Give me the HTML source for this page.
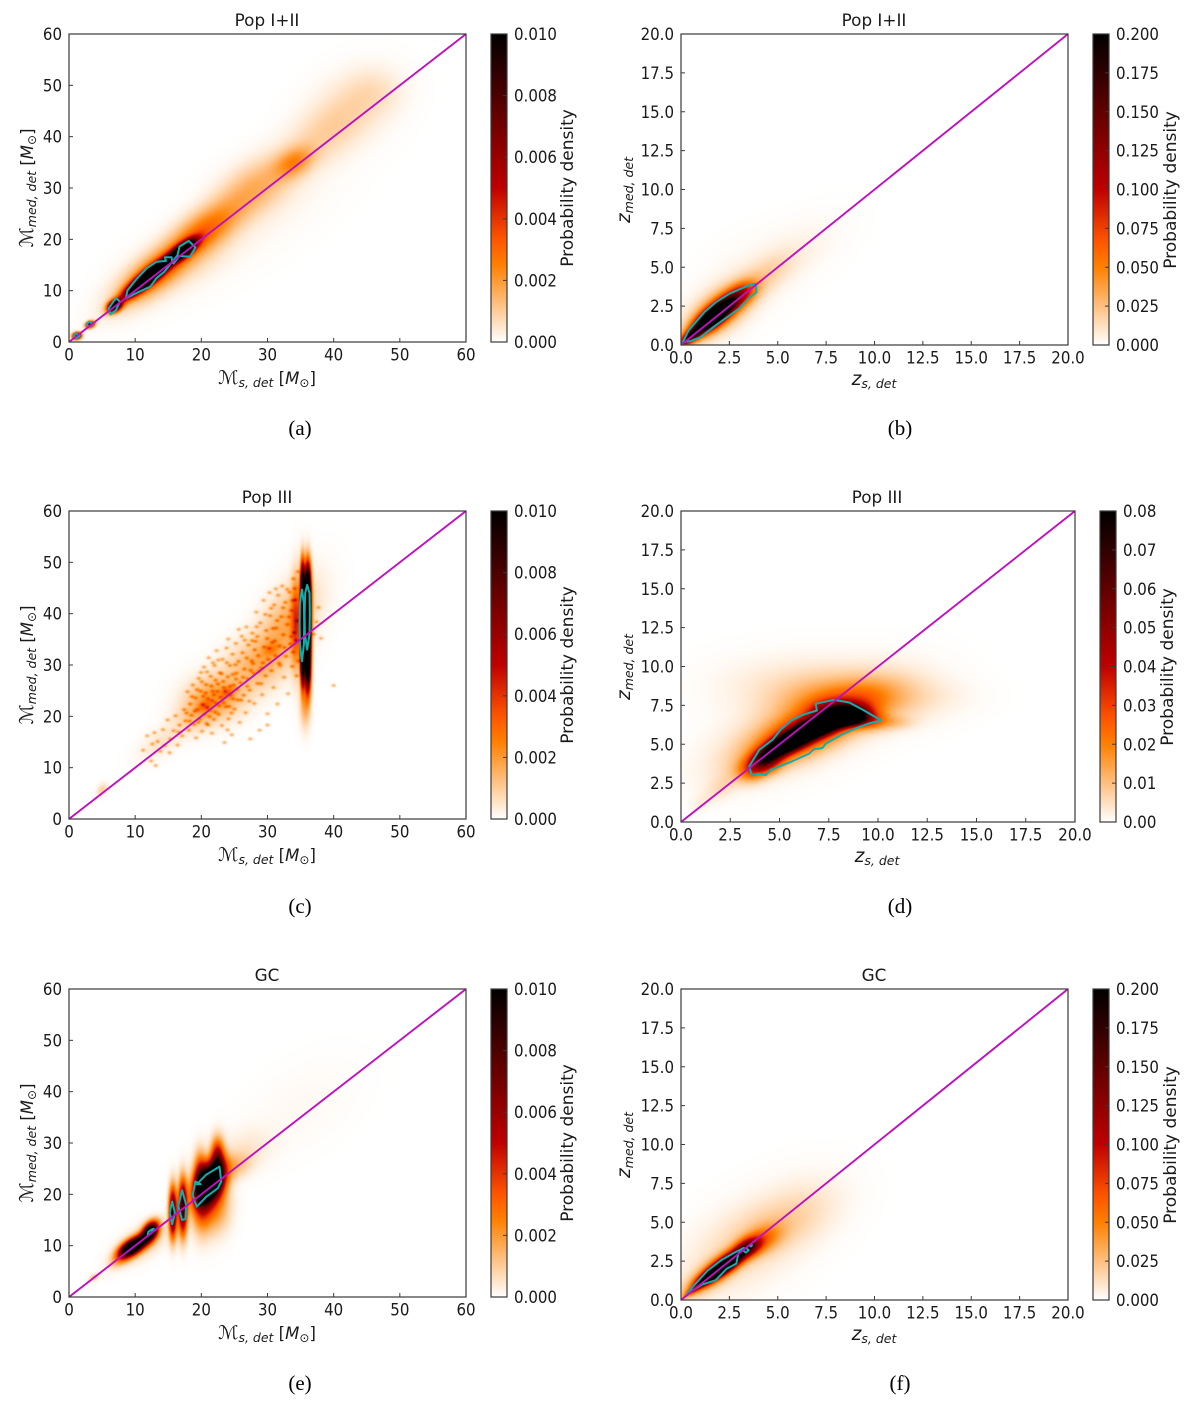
<!DOCTYPE html>
<html lang="en">
<head>
<meta charset="utf-8">
<title>Probability density panels</title>
<style>
html,body{margin:0;padding:0;background:#fff;}
#stage{position:relative;width:1200px;height:1401px;overflow:hidden;background:#fff;}
canvas{position:absolute;display:block;}
svg{position:absolute;left:0;top:0;}
text{font-family:"DejaVu Sans","Liberation Sans",sans-serif;fill:#1a1a1a;}
.ttl{font-size:16.8px;text-anchor:middle;}
.lab{font-size:16.5px;text-anchor:middle;}
.cap{font-family:"Liberation Serif",serif;font-size:21px;text-anchor:middle;fill:#000;}
.cbl{font-size:17px;text-anchor:middle;}
.i{font-style:italic;}
</style>
</head>
<body>
<div id="stage">
<svg id="fig" width="1200" height="1401" viewBox="0 0 1200 1401">
  <defs id="defs"></defs>
  <g id="marks"></g>

  <text class="ttl" x="267" y="26">Pop I+II</text>
  <text class="lab" x="267" y="384"><tspan class="i" font-size="19">ℳ</tspan><tspan class="i" font-size="12.5" dy="3">s, det</tspan><tspan dy="-3">  [</tspan><tspan class="i">M</tspan><tspan font-size="12" dy="3">⊙</tspan><tspan dy="-3">]</tspan></text>
  <text class="lab" transform="translate(33 188) rotate(-90)"><tspan class="i" font-size="19">ℳ</tspan><tspan class="i" font-size="12.5" dy="3">med, det</tspan><tspan dy="-3">  [</tspan><tspan class="i">M</tspan><tspan font-size="12" dy="3">⊙</tspan><tspan dy="-3">]</tspan></text>
  <text class="cbl" transform="translate(573 188) rotate(-90)">Probability density</text>
  <text class="cap" x="300" y="435">(a)</text>

  <text class="ttl" x="874" y="26">Pop I+II</text>
  <text class="lab" x="874" y="385"><tspan class="i" font-size="18.5">z</tspan><tspan class="i" font-size="12.5" dy="3">s, det</tspan></text>
  <text class="lab" transform="translate(630 190) rotate(-90)"><tspan class="i" font-size="18.5">z</tspan><tspan class="i" font-size="12.5" dy="3">med, det</tspan></text>
  <text class="cbl" transform="translate(1176 190) rotate(-90)">Probability density</text>
  <text class="cap" x="900" y="435">(b)</text>

  <text class="ttl" x="267" y="503">Pop III</text>
  <text class="lab" x="267" y="861"><tspan class="i" font-size="19">ℳ</tspan><tspan class="i" font-size="12.5" dy="3">s, det</tspan><tspan dy="-3">  [</tspan><tspan class="i">M</tspan><tspan font-size="12" dy="3">⊙</tspan><tspan dy="-3">]</tspan></text>
  <text class="lab" transform="translate(33 665) rotate(-90)"><tspan class="i" font-size="19">ℳ</tspan><tspan class="i" font-size="12.5" dy="3">med, det</tspan><tspan dy="-3">  [</tspan><tspan class="i">M</tspan><tspan font-size="12" dy="3">⊙</tspan><tspan dy="-3">]</tspan></text>
  <text class="cbl" transform="translate(573 665) rotate(-90)">Probability density</text>
  <text class="cap" x="300" y="913">(c)</text>

  <text class="ttl" x="877" y="503">Pop III</text>
  <text class="lab" x="877" y="862"><tspan class="i" font-size="18.5">z</tspan><tspan class="i" font-size="12.5" dy="3">s, det</tspan></text>
  <text class="lab" transform="translate(630 667) rotate(-90)"><tspan class="i" font-size="18.5">z</tspan><tspan class="i" font-size="12.5" dy="3">med, det</tspan></text>
  <text class="cbl" transform="translate(1173 667) rotate(-90)">Probability density</text>
  <text class="cap" x="900" y="913">(d)</text>

  <text class="ttl" x="267" y="981">GC</text>
  <text class="lab" x="267" y="1339"><tspan class="i" font-size="19">ℳ</tspan><tspan class="i" font-size="12.5" dy="3">s, det</tspan><tspan dy="-3">  [</tspan><tspan class="i">M</tspan><tspan font-size="12" dy="3">⊙</tspan><tspan dy="-3">]</tspan></text>
  <text class="lab" transform="translate(33 1143) rotate(-90)"><tspan class="i" font-size="19">ℳ</tspan><tspan class="i" font-size="12.5" dy="3">med, det</tspan><tspan dy="-3">  [</tspan><tspan class="i">M</tspan><tspan font-size="12" dy="3">⊙</tspan><tspan dy="-3">]</tspan></text>
  <text class="cbl" transform="translate(573 1143) rotate(-90)">Probability density</text>
  <text class="cap" x="300" y="1390">(e)</text>

  <text class="ttl" x="874" y="981">GC</text>
  <text class="lab" x="874" y="1340"><tspan class="i" font-size="18.5">z</tspan><tspan class="i" font-size="12.5" dy="3">s, det</tspan></text>
  <text class="lab" transform="translate(630 1145) rotate(-90)"><tspan class="i" font-size="18.5">z</tspan><tspan class="i" font-size="12.5" dy="3">med, det</tspan></text>
  <text class="cbl" transform="translate(1176 1145) rotate(-90)">Probability density</text>
  <text class="cap" x="900" y="1390">(f)</text>
</svg>
</div>

<script>
// Tick values and labels
const massTicks = [0, 10, 20, 30, 40, 50, 60];
const massTickLabels = ["0", "10", "20", "30", "40", "50", "60"];
const redshiftTicks = [0, 2.5, 5, 7.5, 10, 12.5, 15, 17.5, 20];
const redshiftTickLabels = ["0.0", "2.5", "5.0", "7.5", "10.0", "12.5", "15.0", "17.5", "20.0"];
const massDensityTicks = [0, 0.002, 0.004, 0.006, 0.008, 0.01];
const massDensityLabels = ["0.000", "0.002", "0.004", "0.006", "0.008", "0.010"];
const redshiftDensityTicks = [0, 0.025, 0.05, 0.075, 0.1, 0.125, 0.15, 0.175, 0.2];
const redshiftDensityLabels = ["0.000", "0.025", "0.050", "0.075", "0.100", "0.125", "0.150", "0.175", "0.200"];
const popIIIDensityTicks = [0, 0.01, 0.02, 0.03, 0.04, 0.05, 0.06, 0.07, 0.08];
const popIIIDensityLabels = ["0.00", "0.01", "0.02", "0.03", "0.04", "0.05", "0.06", "0.07", "0.08"];

// Density lobes: [x, y, spread along, spread across, direction in degrees, peak density]
const densityA = [
  [12, 12.6, 3.2, 0.72, 47, 0.019], [17.3, 17.9, 1.8, 0.72, 47, 0.014], [6.9, 7, 0.85, 0.6, 55, 0.012],
  [1.2, 1.2, 0.45, 0.4, 45, 0.012], [3.2, 3.4, 0.5, 0.4, 45, 0.008],
  [13, 13.4, 5, 1.9, 47, 0.0028], [13, 13.5, 6, 2.8, 47, 0.0006], [20.5, 21.7, 4.5, 2.2, 47, 0.0026],
  [28, 30, 5, 2.8, 48, 0.0015], [34, 35, 2.4, 1.6, 48, 0.0018], [38.5, 40.5, 5, 3, 50, 0.00075],
  [43, 46, 5, 3.8, 55, 0.0005], [46, 49, 3, 3, 60, 0.00035], [30, 25, 10, 4, 45, 0.00015], [20, 15.5, 5, 2.4, 45, 0.0003]
];
const densityB = [
  [1.7, 1.85, 0.95, 0.32, 47, 0.29], [2.8, 3, 0.7, 0.38, 47, 0.04], [3.3, 3.4, 0.55, 0.4, 47, 0.03],
  [2, 2.2, 1.4, 0.6, 47, 0.06], [2, 2.2, 1.6, 0.95, 47, 0.012], [0.5, 0.55, 0.5, 0.2, 47, 0.15],
  [4.5, 4.6, 1.2, 0.6, 45, 0.012], [6, 6, 2, 1, 42, 0.004], [3.5, 4.5, 2, 1.3, 45, 0.003]
];
const densityC = [
  [22, 23.5, 3, 2.8, 45, 0.0018], [28, 30, 4, 3, 55, 0.0012], [33, 38, 6, 2.5, 70, 0.0016],
  [19, 20, 2.5, 2, 45, 0.0008], [14, 15, 3, 1.5, 45, 0.0005], [34.3, 38, 6, 0.5, 90, 0.003],
  [35.3, 31, 3.5, 0.24, 90, 0.012], [35.3, 38, 3.5, 0.24, 90, 0.012], [35.3, 45, 3.5, 0.24, 90, 0.012],
  [36.1, 30, 3.5, 0.32, 90, 0.013], [36.1, 37, 3.5, 0.32, 90, 0.016], [36.1, 44.5, 3.5, 0.32, 90, 0.016],
  [35.7, 22, 3, 0.55, 90, 0.0016], [5, 5.7, 0.9, 0.5, 70, 0.0009], [24, 24.6, 0.8, 0.6, 45, 0.0016],
  [20.5, 22, 0.8, 0.6, 45, 0.0014], [30.5, 33, 0.9, 0.7, 45, 0.001]
];
// Individually visible specks in the Pop III mass panel: [x, y]
const specksC = [
  [11.2,13.4],[11.8,16.2],[12.4,11.3],[12.6,14.6],[12.9,16.8],[13.1,10.4],[13.4,15.1],[13.8,13.2],[14.2,17.4],[14.5,14.3],
  [14.9,19.3],[15.3,15.6],[15.2,12.9],[15.8,17.2],[16.1,20.1],[16.4,14.4],[16.7,18.3],[17.1,16.2],[17.4,21.3],[17.6,19.1],
  [17.9,24.8],[18.1,17.3],[18.3,22.4],[18.5,20.2],[18.7,26.1],[18.9,18.4],[19.1,23.6],[19.2,15.8],[19.4,21.3],[19.6,27.4],
  [19.8,19.5],[19.9,24.9],[20.1,17.1],[20.2,22.3],[20.4,29.6],[20.5,20.4],[20.7,26.2],[20.8,18.6],[21,23.4],[21.1,31.4],
  [21.3,21.2],[21.4,27.8],[21.6,16.7],[21.7,24.9],[21.9,19.4],[22,29.9],[22.2,22.6],[22.3,32.8],[22.5,26.3],[22.6,20.4],
  [22.8,28.5],[22.9,23.7],[23.1,18.2],[23.2,31.1],[23.4,25.6],[23.5,14.9],[23.7,21.9],[23.8,33.3],[24,27.7],[24.1,19.5],
  [24.3,29.9],[24.4,24.2],[24.6,16.4],[24.7,32.1],[24.9,26.1],[25,21.4],[25.2,34.2],[25.3,28.4],[25.5,23.2],[25.6,30.7],
  [25.8,18.8],[25.9,26.6],[26.1,35.6],[26.2,32.4],[26.4,24.1],[26.5,29.2],[26.7,20.7],[26.8,37.4],[27,27.3],[27.1,33.9],
  [27.3,25.1],[27.4,15.6],[27.6,30.8],[27.7,36.2],[27.9,28.4],[28,22.5],[28.2,34.6],[28.3,40.3],[28.5,26.4],[28.6,31.8],
  [28.8,17.3],[28.9,38.2],[29.1,29.4],[29.2,24.2],[29.4,42.6],[29.5,33.5],[29.7,27.9],[29.8,36.7],[30,20.5],[30.1,31.1],
  [30.3,44.1],[30.4,39.6],[30.6,28.9],[30.7,34.4],[30.9,25.6],[31,41.7],[31.2,31.8],[31.3,37.2],[31.5,22.4],[31.6,43.6],
  [31.8,33.7],[31.9,29.9],[32.1,39.4],[32.2,45.4],[32.4,35.9],[32.5,27.6],[32.7,42.2],[32.8,31.7],[33,37.9],[33.1,24.4],
  [33.3,44.2],[33.4,34.1],[33.6,40.6],[33.7,29.7],[33.9,46.8],[34,36.3],[33.9,32.5],[34.2,42.7],[34.4,27.9],[34.5,38.6],
  [34.6,48.2],[34.3,34.8],[34.7,30.8],[34.1,44.9],[37,36],[37.4,38.4],[37.7,41.2],[38.1,35.2],[40,26],[30,18.3],
  [21,18.3],[19,21],[21.9,24.2],[22.7,22.1],[23.6,24.9],[24.8,23.4],[20.9,21.7],[23.3,26.8],[26.3,27.6],[27.8,30.3],
  [29.3,30.4],[31.1,34.7],[32.6,33.4],[24.2,21.9],[25.4,25.3],[22.1,20.8],[20.3,23.9],[21.5,25.9],[28.7,28.8],[30.8,37.1],
  [23.05,28.3],[19.35,25.2],[26.85,31.35],[21.75,30.45],[24.55,20.65],[18.25,19.05],[29.95,35.15],[25.15,30.05],[33.25,39.35],[20.65,24.55],
  [27.25,22.95],[22.45,24.85],[31.75,30.35],[24.05,35.05],[16.55,16.95],[28.35,37.45],[19.95,28.55],[32.35,41.15],[26.05,23.15],[21.25,19.95],
  [30.25,33.25],[23.85,30.45],[25.65,36.95],[18.55,23.85],[33.55,35.55],[27.45,28.95],[22.15,27.05],[29.65,39.85],[24.75,28.15],[20.05,26.75],
  [31.45,38.65],[26.55,34.85],[23.35,22.65],[17.75,20.65],[28.05,32.95],[32.95,44.75],[25.25,27.25],[21.65,23.05],[30.55,41.05],[27.65,34.75],
  [19.55,18.85],[24.35,25.85],[33.75,42.55],[22.55,30.95],[29.05,26.35],[26.95,25.85],[31.25,44.85],[23.95,17.35],[20.85,28.65],[28.45,35.55]
];
const densityD = [
  [5.6, 5.2, 1.2, 0.36, 35, 0.12], [7.3, 6.3, 1, 0.36, 25, 0.12], [8.3, 6.65, 0.6, 0.28, 0, 0.09],
  [6.5, 5.9, 2.3, 0.8, 33, 0.03], [9, 6.8, 0.8, 0.42, -15, 0.036], [7.8, 7.2, 0.7, 0.38, 0, 0.026],
  [4.3, 3.8, 0.6, 0.42, 40, 0.036], [6.5, 6.3, 3, 1.3, 30, 0.012], [8, 7.8, 2, 0.9, 0, 0.008],
  [10.5, 7.9, 1.8, 1, 0, 0.0045], [7, 8.5, 3, 1.3, 0, 0.003], [6, 9, 2.5, 1.2, 0, 0.002],
  [13, 8.2, 1.5, 0.8, 0, 0.0012], [10.8, 6.4, 0.7, 0.3, 0, 0.006],
  [3.5, 3.2, 0.5, 0.45, 45, 0.012], [2, 2.2, 0.7, 0.4, 45, 0.004], [1, 1.2, 0.4, 0.3, 45, 0.002]
];
const densityE = [
  [21.3, 22.3, 2.6, 1.25, 75, 0.016], [22.5, 26, 3, 0.7, 90, 0.004], [20, 19, 4, 1, 90, 0.004],
  [22, 18, 3.5, 1.5, 90, 0.0025], [19.8, 24, 3, 0.6, 90, 0.003], [22.4, 28, 2, 0.6, 90, 0.002],
  [17.2, 17.5, 3.5, 0.45, 90, 0.009], [15.7, 16.5, 3.2, 0.4, 90, 0.009],
  [12.3, 12.8, 1.3, 0.7, 70, 0.012], [9.3, 9.5, 1.5, 0.8, 45, 0.012], [10.7, 10.7, 1.5, 0.8, 45, 0.006],
  [8, 7.5, 1.6, 0.8, 45, 0.0015], [11, 10.5, 3, 1.6, 45, 0.0012], [3.8, 3.8, 0.6, 0.4, 45, 0.0012],
  [25, 25.5, 2, 1.5, 50, 0.0012], [27, 29, 3, 2.5, 50, 0.0004], [35, 37, 7, 4, 50, 0.00012]
];
const densityF = [
  [1.8, 1.8, 0.8, 0.22, 42, 0.28], [2.6, 2.55, 0.8, 0.3, 42, 0.14], [3.5, 3.4, 0.5, 0.35, 40, 0.09],
  [1.8, 1.85, 1.3, 0.45, 44, 0.06], [4.2, 3.9, 0.8, 0.5, 40, 0.04], [5.5, 5, 1.8, 1.1, 40, 0.012],
  [3, 3.2, 2.6, 1.5, 45, 0.012], [3.5, 4.5, 1.5, 1, 45, 0.003], [6.5, 6.2, 1.8, 1.4, 45, 0.0035],
  [0.7, 0.7, 0.5, 0.12, 42, 0.06]
];

// Contour outlines, in data coordinates
const contoursA = [
  [[8.57,8.5],[8.86,10.1],[10.3,12.4],[11.75,14.35],[13.2,15.6],[14.65,15.8],[14.5,16.5],[15.5,16.5],[15.6,15.6],[14.4,13.7],[13.2,12.4],[12.3,10.8],[10.6,9.8]],
  [[15.6,15.6],[16.4,16.9],[16.7,18.6],[18.1,19.7],[19.1,18.4],[18.3,16.6],[16.7,16.75],[15.8,15.3]],
  [[6,6.55],[7.1,8.6],[7.7,7.85],[7.1,6.2],[6.25,5.4]],
  [[0.65,1.2],[1.15,1.7],[1.65,1.2],[1.15,0.7]],
  [[2.6,3.45],[3.1,4],[3.6,3.45],[3.1,2.9]]
];
const contoursB = [
  [[0.1,0.2],[0.4,0.95],[1.2,2.1],[1.8,2.75],[2.5,3.3],[3.5,3.84],[3.85,3.95],[3.9,3.4],[3.5,3],[3,2.34],[2.5,1.9],[1.8,1.27],[1,0.5],[0.5,0.25]]
];
const contoursC = [
  [[35.2,30.7],[34.9,34],[34.85,38],[34.9,42],[35.2,44.7],[35.5,42],[35.55,38],[35.5,34]],
  [[36,33],[35.65,36],[35.6,40],[35.7,44],[36,45.6],[36.35,44],[36.4,40],[36.35,36]]
];
const contoursD = [
  [[3.46,3.58],[3.98,4.65],[4.66,5.3],[5.05,5.93],[5.63,6.57],[6.2,6.9],[6.9,7.17],[6.83,7.6],[7.76,7.86],[8.53,7.69],[9.3,7.17],[10.17,6.53],[9.6,6.36],[8.9,6.04],[8.14,5.6],[7.37,5.07],[7.17,4.75],[6.75,4.69],[6.5,4.39],[5.63,3.9],[4.56,3.36],[4.3,3.02],[3.9,3.1],[3.6,2.98]]
];
const contoursE = [
  [[19.1,22.5],[19.9,21.95],[19.3,21.95],[20.7,23.8],[22.75,25.4],[23,22.5],[22.5,21.2],[20.7,19.5],[19.3,17.6],[18.7,19.9]],
  [[15.6,14.2],[15.2,16.4],[15.6,18.6],[16,16.4]],
  [[17.1,15],[16.5,17.7],[17.1,20.8],[17.7,18],[17.6,15.2]],
  [[11.9,12.1],[12.4,12.4],[12.8,13.3],[12.4,13.1],[12,12.7]]
];
const contoursF = [
  [[0.25,0.25],[0.6,0.84],[1.38,1.9],[2.07,2.55],[2.66,2.98],[3.25,3.35],[2.96,2.98],[2.86,2.34],[2.37,2.02],[1.78,1.27],[1.08,0.99],[0.6,0.62]],
  [[3.2,3.2],[3.35,3.35],[3.5,3.2],[3.35,3.05]],
  [[3.53,3.52],[3.6,3.6],[3.67,3.52],[3.6,3.44]]
];

// Panel layout (frame geometry and which arrays each panel reads)
const panels = [
  {id:"a", l:69,  r:466,  t:34,  b:342,  cl:491,  cr:507,  max:60, vmax:0.01, ticks:massTicks, labels:massTickLabels, cTicks:massDensityTicks, cLabels:massDensityLabels, density:densityA, specks:[], contours:contoursA},
  {id:"b", l:681, r:1068, t:34,  b:345,  cl:1093, cr:1109, max:20, vmax:0.2,  ticks:redshiftTicks, labels:redshiftTickLabels, cTicks:redshiftDensityTicks, cLabels:redshiftDensityLabels, density:densityB, specks:[], contours:contoursB},
  {id:"c", l:69,  r:466,  t:511, b:819,  cl:491,  cr:507,  max:60, vmax:0.01, ticks:massTicks, labels:massTickLabels, cTicks:massDensityTicks, cLabels:massDensityLabels, density:densityC, specks:specksC, contours:contoursC},
  {id:"d", l:681, r:1075, t:511, b:822,  cl:1100, cr:1116, max:20, vmax:0.08, ticks:redshiftTicks, labels:redshiftTickLabels, cTicks:popIIIDensityTicks, cLabels:popIIIDensityLabels, density:densityD, specks:[], contours:contoursD},
  {id:"e", l:69,  r:466,  t:989, b:1297, cl:491,  cr:507,  max:60, vmax:0.01, ticks:massTicks, labels:massTickLabels, cTicks:massDensityTicks, cLabels:massDensityLabels, density:densityE, specks:[], contours:contoursE},
  {id:"f", l:681, r:1068, t:989, b:1300, cl:1093, cr:1109, max:20, vmax:0.2,  ticks:redshiftTicks, labels:redshiftTickLabels, cTicks:redshiftDensityTicks, cLabels:redshiftDensityLabels, density:densityF, specks:[], contours:contoursF}
];

const NS = "http://www.w3.org/2000/svg";
const marks = document.getElementById("marks");
const defs = document.getElementById("defs");
const stage = document.getElementById("stage");
const figure = document.getElementById("fig");
const SPECK_PEAK = 0.0016;
const SPECK_SPREAD = 0.22;

function node(tag, attrs, parent) {
  const el = document.createElementNS(NS, tag);
  for (const k in attrs) el.setAttribute(k, attrs[k]);
  parent.appendChild(el);
  return el;
}
function squeeze(el) {
  el.setAttribute("textLength", (el.getComputedTextLength() * 0.91).toFixed(1));
  el.setAttribute("lengthAdjust", "spacingAndGlyphs");
}
function colormap(v) {
  const x = 1 - Math.min(1, Math.max(0, v));
  const r = Math.min(1, 1.5 * x);
  const g = Math.max(0, 2 * x - 1);
  const b = Math.max(0, 4 * x - 3);
  return [Math.round(r * 255), Math.round(g * 255), Math.round(b * 255)];
}
function densityAt(list, x, y) {
  let sum = 0;
  for (const d of list) {
    const a = d[4] * Math.PI / 180;
    const dx = x - d[0], dy = y - d[1];
    const u = (dx * Math.cos(a) + dy * Math.sin(a)) / d[2];
    const w = (-dx * Math.sin(a) + dy * Math.cos(a)) / d[3];
    sum += d[5] * Math.exp(-0.5 * (u * u + w * w));
  }
  return sum;
}

panels.forEach(function (p) {
  const w = p.r - p.l, h = p.b - p.t;
  const sx = function (v) { return p.l + v / p.max * w; };
  const sy = function (v) { return p.b - v / p.max * h; };
  const cy = function (v) { return p.b - v / p.vmax * h; };

  // heatmap: smooth lobes plus any individually read specks
  const field = new Float64Array(w * h);
  for (let j = 0; j < h; j++) {
    for (let i = 0; i < w; i++) {
      field[j * w + i] = densityAt(p.density, (i + 0.5) / w * p.max, (h - j - 0.5) / h * p.max);
    }
  }
  p.specks.forEach(function (s) {
    const pi = Math.round(sx(s[0]) - p.l), pj = Math.round(sy(s[1]) - p.t);
    for (let j = Math.max(0, pj - 6); j <= Math.min(h - 1, pj + 6); j++) {
      for (let i = Math.max(0, pi - 6); i <= Math.min(w - 1, pi + 6); i++) {
        const dx = ((i + 0.5) / w * p.max - s[0]) / SPECK_SPREAD;
        const dy = ((h - j - 0.5) / h * p.max - s[1]) / SPECK_SPREAD;
        field[j * w + i] += SPECK_PEAK * Math.exp(-0.5 * (dx * dx + dy * dy));
      }
    }
  });
  const cv = document.createElement("canvas");
  
  
  cv.width = w; cv.height = h;
  cv.style.left = p.l + "px"; cv.style.top = p.t + "px";
  stage.insertBefore(cv, figure);
  const ctx = cv.getContext("2d");
  const img = ctx.createImageData(w, h);
  for (let o = 0; o < w * h; o++) {
    const c = colormap(field[o] / p.vmax);
    img.data[o * 4] = c[0]; img.data[o * 4 + 1] = c[1]; img.data[o * 4 + 2] = c[2]; img.data[o * 4 + 3] = 255;
  }
  ctx.putImageData(img, 0, 0);

  const g = node("g", {}, marks);
  
  

  // contours
  p.contours.forEach(function (poly) {
    const pts = poly.map(function (q) { return sx(q[0]).toFixed(1) + "," + sy(q[1]).toFixed(1); }).join(" ");
    const c = node("polygon", {points: pts, fill: "none", stroke: "#14adad", "stroke-width": 2, "stroke-linejoin": "round"}, g);
    
    
  });

  // one-to-one line
  const diag = node("line", {x1: sx(0), y1: sy(0), x2: sx(p.max), y2: sy(p.max), stroke: "#bf10c0", "stroke-width": 1.9}, g);
  
  

  // frame
  const frame = node("rect", {x: p.l, y: p.t, width: w, height: h, fill: "none", stroke: "#3a3a3a", "stroke-width": 1.2}, g);
  
  

  // ticks
  p.ticks.forEach(function (t, i) {
    const tx = node("line", {x1: sx(t), y1: p.b, x2: sx(t), y2: p.b - 4, stroke: "#3a3a3a", "stroke-width": 1}, g);
    
    
    const ty = node("line", {x1: p.l, y1: sy(t), x2: p.l + 4, y2: sy(t), stroke: "#3a3a3a", "stroke-width": 1}, g);
    
    
    const lx = node("text", {x: sx(t), y: p.b + 18.5, "text-anchor": "middle", "font-size": 16.5}, g);
    lx.textContent = p.labels[i];
    
    
    squeeze(lx);
    const ly = node("text", {x: p.l - 7, y: sy(t) + 6, "text-anchor": "end", "font-size": 16.5}, g);
    ly.textContent = p.labels[i];
    
    
    squeeze(ly);
  });

  // colorbar
  const grad = node("linearGradient", {id: "grad-" + p.id, x1: 0, y1: 1, x2: 0, y2: 0}, defs);
  for (let k = 0; k <= 40; k++) {
    const c = colormap(k / 40);
    node("stop", {offset: k / 40, "stop-color": "rgb(" + c.join(",") + ")"}, grad);
  }
  const bar = node("rect", {x: p.cl, y: p.t, width: p.cr - p.cl, height: h, fill: "url(#grad-" + p.id + ")", stroke: "#3a3a3a", "stroke-width": 1.2}, g);
  
  
  p.cTicks.forEach(function (t, i) {
    const tk = node("line", {x1: p.cr - 4, y1: cy(t), x2: p.cr, y2: cy(t), stroke: "#3a3a3a", "stroke-width": 1}, g);
    
    
    const lb = node("text", {x: p.cr + 7, y: cy(t) + 6, "font-size": 16.5}, g);
    lb.textContent = p.cLabels[i];
    
    
    squeeze(lb);
  });
});
</script>
</body>
</html>
